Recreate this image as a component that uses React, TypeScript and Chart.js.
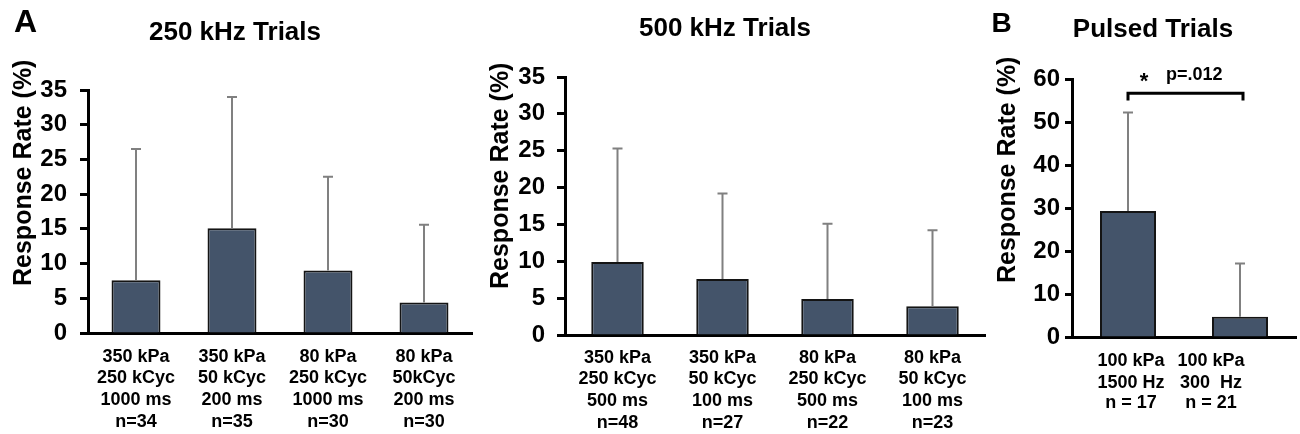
import React, { useEffect, useRef } from 'react';
import { Chart, registerables } from 'chart.js';

Chart.register(...registerables);

const FONT = '"Liberation Sans", Arial, Helvetica, sans-serif';
const BAR_COLOR = '#44546A';
const BAR_BORDER = '#141414';
const ERR_COLOR = '#808080';

// ---- Data ----
const labels250: string[][] = [
  ['350 kPa', '250 kCyc', '1000 ms', 'n=34'],
  ['350 kPa', '50 kCyc', '200 ms', 'n=35'],
  ['80 kPa', '250 kCyc', '1000 ms', 'n=30'],
  ['80 kPa', '50kCyc', '200 ms', 'n=30'],
];
const means250 = [7.6, 15.1, 9.0, 4.4];
const errs250 = [18.9, 18.9, 13.5, 11.2];

const labels500: string[][] = [
  ['350 kPa', '250 kCyc', '500 ms', 'n=48'],
  ['350 kPa', '50 kCyc', '100 ms', 'n=27'],
  ['80 kPa', '250 kCyc', '500 ms', 'n=22'],
  ['80 kPa', '50 kCyc', '100 ms', 'n=23'],
];
const means500 = [9.9, 7.6, 4.9, 3.9];
const errs500 = [15.4, 11.6, 10.2, 10.3];

const labelsPulsed: string[][] = [
  ['100 kPa', '1500 Hz', 'n = 17'],
  ['100 kPa', '300  Hz', 'n = 21'],
];
const meansPulsed = [29.3, 4.7];
const errsPulsed = [22.9, 12.4];

const yRange250 = { max: 35, step: 5 };
const yRange500 = { max: 35, step: 5 };
const yRangePulsed = { max: 60, step: 10 };

const sigBracket = { level: 56.7, drop: 55.0, star: '*', text: 'p=.012' };

const titles = ['250 kHz Trials', '500 kHz Trials', 'Pulsed Trials'];
const yTitle = 'Response Rate (%)';

type Spec = {
  left: number;
  width: number;
  area: { top: number; bottom: number; left: number; right: number };
  labels: string[][];
  means: number[];
  errs: number[];
  yMax: number;
  yStep: number;
  barPct: number;
  tickPad: number;
  tickLen: number;
  xPad: number;
  title: string;
  titleX: number;
  titleY: number;
  letter?: { text: string; x: number; y: number; size: number };
  yTitleX: number;
  yTitleBottom: number;
  customX?: { offsets: number[]; lines: number[] };
  sig?: boolean;
};

const H = 434;

const specs: Spec[] = [
  {
    left: 0, width: 480,
    area: { top: 90, bottom: 333, left: 88, right: 472 },
    labels: labels250, means: means250, errs: errs250,
    yMax: yRange250.max, yStep: yRange250.step, barPct: 0.51,
    tickPad: 13, tickLen: 8, xPad: 13,
    title: titles[0], titleX: 235, titleY: 39.5,
    letter: { text: 'A', x: 14, y: 31.5, size: 32 },
    yTitleX: 24, yTitleBottom: 286,
  },
  {
    left: 480, width: 510,
    area: { top: 77, bottom: 335, left: 85, right: 505 },
    labels: labels500, means: means500, errs: errs500,
    yMax: yRange500.max, yStep: yRange500.step, barPct: 0.5,
    tickPad: 12, tickLen: 8, xPad: 12,
    title: titles[1], titleX: 245, titleY: 36,
    yTitleX: 21, yTitleBottom: 289,
  },
  {
    left: 990, width: 310,
    area: { top: 79, bottom: 337, left: 82, right: 306 },
    labels: labelsPulsed, means: meansPulsed, errs: errsPulsed,
    yMax: yRangePulsed.max, yStep: yRangePulsed.step, barPct: 0.5,
    tickPad: 5, tickLen: 7, xPad: 12,
    title: titles[2], titleX: 163, titleY: 36.5,
    letter: { text: 'B', x: 1.5, y: 31.5, size: 28 },
    yTitleX: 18, yTitleBottom: 283,
    customX: { offsets: [3, -29], lines: [24, 45.7, 66.5] },
    sig: true,
  },
];

function makeChart(canvas: HTMLCanvasElement, s: Spec) {
  const decor = {
    id: 'decor' + s.left,
    afterDatasetsDraw(chart: any) {
      const ctx: CanvasRenderingContext2D = chart.ctx;
      const y = chart.scales.y;
      const meta = chart.getDatasetMeta(0);
      ctx.save();
      // error bars
      ctx.strokeStyle = ERR_COLOR;
      ctx.lineWidth = 2;
      meta.data.forEach((bar: any, i: number) => {
        const base = y.getPixelForValue(s.means[i]);
        const top = y.getPixelForValue(s.means[i] + s.errs[i]);
        ctx.beginPath();
        ctx.moveTo(bar.x, base);
        ctx.lineTo(bar.x, top);
        ctx.moveTo(bar.x - 5, top);
        ctx.lineTo(bar.x + 5, top);
        ctx.stroke();
      });
      ctx.fillStyle = '#000';
      // title
      ctx.font = `bold 26px ${FONT}`;
      ctx.textAlign = 'center';
      ctx.textBaseline = 'alphabetic';
      ctx.fillText(s.title, s.titleX, s.titleY);
      if (s.letter) {
        ctx.font = `bold ${s.letter.size}px ${FONT}`;
        ctx.textAlign = 'left';
        ctx.fillText(s.letter.text, s.letter.x, s.letter.y);
      }
      // y title
      ctx.save();
      ctx.translate(s.yTitleX, s.yTitleBottom);
      ctx.rotate(-Math.PI / 2);
      ctx.font = `bold 25px ${FONT}`;
      ctx.textAlign = 'left';
      ctx.textBaseline = 'middle';
      ctx.fillText(yTitle, 0, 0);
      ctx.restore();
      // custom x labels
      if (s.customX) {
        ctx.font = `bold 18px ${FONT}`;
        ctx.textAlign = 'center';
        ctx.textBaseline = 'middle';
        const bottom = chart.chartArea.bottom;
        s.labels.forEach((lines, i) => {
          const x = chart.scales.x.getPixelForValue(i) + s.customX!.offsets[i];
          lines.forEach((t, j) => ctx.fillText(t, x, bottom + s.customX!.lines[j]));
        });
      }
      // significance bracket
      if (s.sig) {
        const x1 = meta.data[0].x;
        const x2 = meta.data[1].x + 3;
        const yl = y.getPixelForValue(sigBracket.level);
        const yd = y.getPixelForValue(sigBracket.drop);
        ctx.strokeStyle = '#000';
        ctx.lineWidth = 3;
        ctx.beginPath();
        ctx.moveTo(x1, yd);
        ctx.lineTo(x1, yl);
        ctx.lineTo(x2, yl);
        ctx.lineTo(x2, yd);
        ctx.stroke();
        ctx.font = `bold 22px ${FONT}`;
        ctx.textAlign = 'center';
        ctx.textBaseline = 'alphabetic';
        ctx.fillText(sigBracket.star, x1 + 16, yl - 5);
        ctx.font = `bold 18px ${FONT}`;
        ctx.textAlign = 'left';
        ctx.fillText(sigBracket.text, x1 + 38, yl - 13);
      }
      ctx.restore();
    },
  };

  return new Chart(canvas, {
    type: 'bar',
    data: {
      labels: s.labels as any,
      datasets: [
        {
          data: s.means,
          backgroundColor: BAR_COLOR,
          borderColor: BAR_BORDER,
          borderWidth: 2,
          barPercentage: s.barPct,
          categoryPercentage: 1,
        },
      ],
    },
    options: {
      animation: false,
      responsive: false,
      devicePixelRatio: 1,
      layout: {
        padding: { top: s.area.top, right: s.width - s.area.right, bottom: 0, left: 0 },
      },
      plugins: {
        legend: { display: false },
        tooltip: { enabled: false },
        title: { display: false },
      },
      scales: {
        x: {
          offset: true,
          grid: { display: false, drawTicks: false },
          border: { display: true, width: 3, color: '#000' },
          ticks: {
            display: !s.customX,
            color: '#000',
            font: { family: FONT, size: 18, weight: 'bold', lineHeight: 1.2 },
            padding: s.xPad,
            maxRotation: 0,
            autoSkip: false,
          },
          afterFit: (sc: any) => {
            sc.height = H - s.area.bottom;
          },
        },
        y: {
          min: 0,
          max: s.yMax,
          ticks: {
            stepSize: s.yStep,
            color: '#000',
            font: { family: FONT, size: 24, weight: 'bold' },
            padding: s.tickPad,
          },
          grid: {
            drawOnChartArea: false,
            drawTicks: true,
            tickLength: s.tickLen,
            tickWidth: 3,
            tickColor: '#000',
          },
          border: { display: true, width: 3, color: '#000' },
          afterFit: (sc: any) => {
            sc.width = s.area.left;
          },
        },
      },
    } as any,
    plugins: [decor],
  });
}

function Panel({ spec }: { spec: Spec }) {
  const ref = useRef<HTMLCanvasElement | null>(null);
  useEffect(() => {
    if (!ref.current) return;
    const chart = makeChart(ref.current, spec);
    return () => chart.destroy();
  }, [spec]);
  return (
    <canvas
      ref={ref}
      width={spec.width}
      height={H}
      style={{ position: 'absolute', left: spec.left, top: 0, width: spec.width, height: H }}
    />
  );
}

export default function App() {
  return (
    <div
      style={{
        position: 'absolute',
        left: 0,
        top: 0,
        width: 1300,
        height: H,
        background: '#fff',
        overflow: 'hidden',
      }}
    >
      {specs.map((s) => (
        <Panel key={s.left} spec={s} />
      ))}
    </div>
  );
}
